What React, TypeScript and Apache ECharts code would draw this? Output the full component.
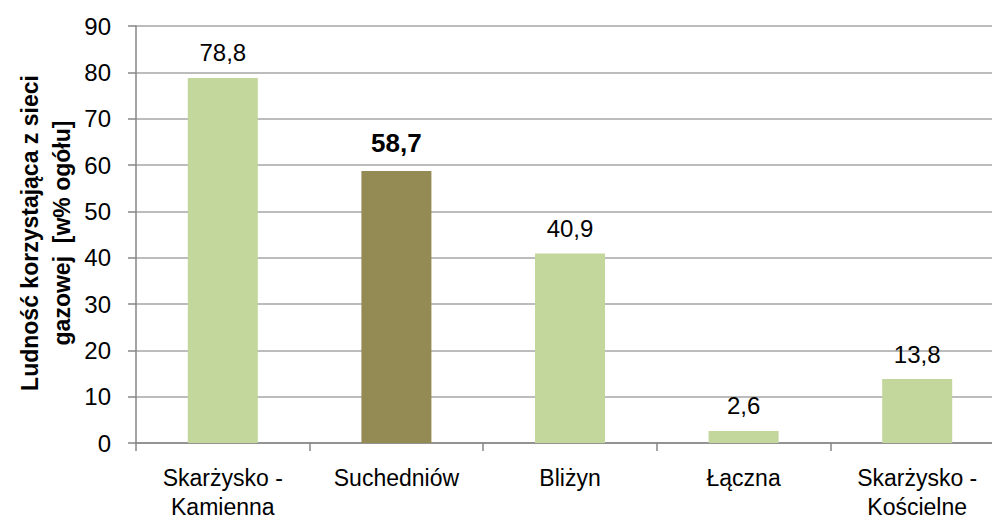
import React, { useEffect, useRef } from "react";
import * as echarts from "echarts";

const categories = ["Skarżysko -\nKamienna", "Suchedniów", "Bliżyn", "Łączna", "Skarżysko -\nKościelne"];
const values = [78.8, 58.7, 40.9, 2.6, 13.8];
const highlightIndex = 1;
const yTitle = "Ludność korzystająca z sieci\ngazowej \u00a0[w% ogółu]";

const FONT = "'Liberation Sans', Arial, sans-serif";

export default function App() {
  const ref = useRef<HTMLDivElement>(null);
  useEffect(() => {
    if (!ref.current) return;
    const chart = echarts.init(ref.current, undefined, { renderer: "svg" });
    chart.setOption({
      animation: false,
      grid: { left: 136, right: -12, top: 26, bottom: 76, containLabel: false, outerBoundsMode: "none" },
      xAxis: {
        type: "category",
        data: categories,
        axisLine: { lineStyle: { color: "#868686", width: 1.5 } },
        axisTick: { show: true, length: 8, lineStyle: { color: "#868686", width: 1.5 } },
        axisLabel: { color: "#000", fontSize: 23, fontFamily: FONT, lineHeight: 29, margin: 20, interval: 0 },
      },
      yAxis: {
        type: "value",
        min: 0,
        max: 90,
        interval: 10,
        axisLine: { show: true, lineStyle: { color: "#868686", width: 1.5 } },
        axisTick: { show: true, length: 8, lineStyle: { color: "#868686", width: 1.5 } },
        axisLabel: { color: "#000", fontSize: 24, fontFamily: FONT, margin: 25 },
        splitLine: { show: true, lineStyle: { color: "#a6a6a6", width: 1.5 } },
      },
      graphic: [
        {
          type: "text",
          x: 46,
          y: 233,
          rotation: Math.PI / 2,
          style: {
            text: yTitle,
            fill: "#000",
            font: `bold 23px ${FONT}`,
            textAlign: "center",
            textVerticalAlign: "middle",
            lineHeight: 32,
          },
        },
      ],
      series: [
        {
          type: "bar",
          barWidth: 70,
          data: values.map((v, i) => ({
            value: v,
            itemStyle: { color: i === highlightIndex ? "#948A54" : "#C3D69B" },
            label: i === highlightIndex ? { fontSize: 26, fontWeight: "bold", distance: 15 } : {},
          })),
          label: {
            show: true,
            position: "top",
            distance: 13,
            color: "#000",
            fontSize: 24,
            fontFamily: FONT,
            formatter: (p: any) => String(p.value).replace(".", ","),
          },
        },
      ],
    });
    return () => chart.dispose();
  }, []);
  return <div ref={ref} style={{ width: 992, height: 519, position: "absolute", left: 0, top: 0 }} />;
}
